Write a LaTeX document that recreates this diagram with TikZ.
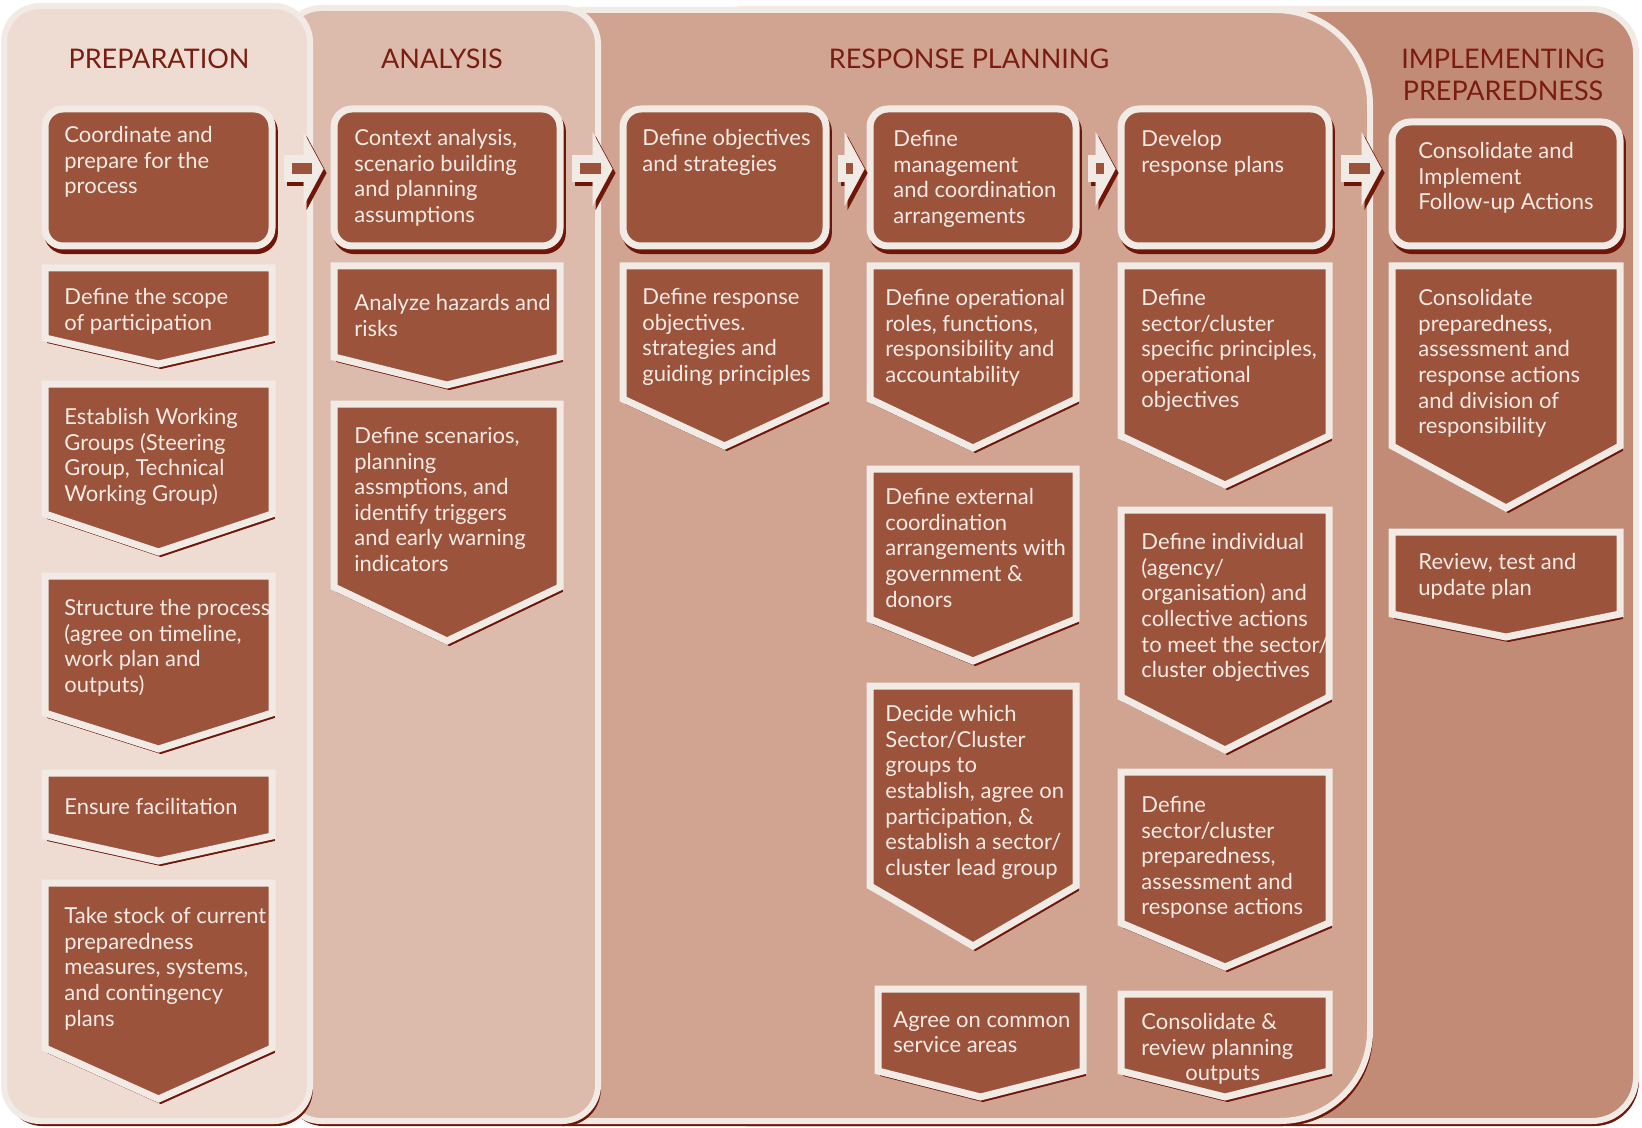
\documentclass[tikz,border=0pt]{standalone}
\usepackage{fontspec}
\setmainfont{Lato}
\usetikzlibrary{arrows.meta,fit}

\definecolor{boxbrown}{RGB}{156,83,59}
\definecolor{boxline}{RGB}{242,234,229}
\definecolor{shadowred}{RGB}{112,22,8}
\definecolor{titlered}{RGB}{122,28,16}
\definecolor{panA}{RGB}{238,220,210}
\definecolor{panB}{RGB}{221,187,172}
\definecolor{panC}{RGB}{209,164,145}
\definecolor{panD}{RGB}{193,139,117}

\tikzset{
    dshadow/.style={preaction={draw=shadowred, fill=shadowred, transform canvas={shift={(1.2pt,-2.3pt)}}}},
    panel/.style={draw=boxline, line width=3pt, dshadow},
    topbox/.style={draw=boxline, fill=boxbrown, line width=3.5pt, rounded corners=9pt, inner sep=0pt, dshadow},
    chev/.style={draw=boxline, fill=boxbrown, line width=3.5pt, dshadow},
    txt/.style={anchor=north west, align=left, inner sep=0pt, text=boxline, font=\fontsize{11}{12.8}\selectfont},
    title/.style={text=titlered, align=center, font=\fontsize{13.5}{16}\selectfont},
    flowshadow/.style={draw=shadowred, line width=13.5pt, -{Triangle[width=37pt, length=10pt, line width=0.1pt]},
        shorten <=4pt, shorten >=#1},
    flow/.style={draw=boxline, line width=13.5pt, -{Triangle[width=37pt, length=10pt, line width=0.1pt]},
        shorten <=4pt, shorten >=#1,
        postaction={draw=boxbrown, line width=5.5pt, -, shorten <=8pt, shorten >=#1+6pt}}
}

\begin{document}
\begin{tikzpicture}[x=0.5pt, y=-0.5pt]

    \useasboundingbox (0,0) rectangle (1642,1128);

    %-------------------------
    % Pannelli delle fasi
    %-------------------------
    \draw[panel, fill=panD, rounded corners=22pt] (700,9) rectangle (1636,1121);
    \draw[panel, fill=panC] (560,1121) -- (560,30)
    arc[start angle=180, end angle=90, radius=10pt] -- (1275,10)
    arc[start angle=90, end angle=0, radius=47.5pt] -- (1370,1031)
    arc[start angle=0, end angle=-90, radius=45pt] -- cycle;
    \draw[panel, fill=panB, rounded corners=18pt] (285,8) rectangle (598,1121);
    \draw[panel, fill=panA, rounded corners=18pt] (4,6) rectangle (310,1121);

    % Titoli
    \node[title] (tprep) at (159,59) {PREPARATION};
    \node[title] (tanal) at (442,59) {ANALYSIS};
    \node[title] (tresp) at (969,59) {RESPONSE PLANNING};
    \node[title] (timpl) at (1503,75) {IMPLEMENTING\\PREPAREDNESS};

    %-------------------------
    % Riquadri iniziali
    %-------------------------
    \node[topbox, fit={(45,109) (272,246)}] (prep) {};
    \node[topbox, fit={(334,109) (560,246)}] (anal) {};
    \node[topbox, fit={(623,109) (826,246)}] (objs) {};
    \node[topbox, fit={(870,109) (1076,246)}] (mgmt) {};
    \node[topbox, fit={(1121,109) (1329,246)}] (plans) {};
    \node[topbox, fit={(1392,122) (1620,246)}] (impl) {};

    \node[txt] (prept) at (64,126) {Coordinate and\\prepare for the\\process};
    \node[txt] (analt) at (354,129) {Context analysis,\\scenario building\\and planning\\assumptions};
    \node[txt] (objst) at (642,129) {Define objectives\\and strategies};
    \node[txt] (mgmtt) at (893,130) {Define\\management\\and coordination\\arrangements};
    \node[txt] (planst) at (1141,130) {Develop\\response plans};
    \node[txt] (implt) at (1418,142) {Consolidate and\\Implement\\Follow-up Actions};

    % Frecce tra le fasi (ombra, poi freccia)
    \draw[flowshadow=3.5pt] ([shift={(1.5pt,2.25pt)}]prep.east) -- ([shift={(1.5pt,2.25pt)}]prep.east -| anal.west);
    \draw[flow=3.5pt] ([yshift=4.25pt]prep.east) -- ([yshift=4.25pt]prep.east -| anal.west);

    \draw[flowshadow=3.5pt] ([shift={(1.5pt,2.25pt)}]anal.east) -- ([shift={(1.5pt,2.25pt)}]anal.east -| objs.west);
    \draw[flow=3.5pt] ([yshift=4.25pt]anal.east) -- ([yshift=4.25pt]anal.east -| objs.west);

    \draw[flowshadow=1pt] ([shift={(1.5pt,2.25pt)}]objs.east) -- ([shift={(1.5pt,2.25pt)}]objs.east -| mgmt.west);
    \draw[flow=1pt] ([yshift=4.25pt]objs.east) -- ([yshift=4.25pt]objs.east -| mgmt.west);

    \draw[flowshadow=1pt] ([shift={(1.5pt,2.25pt)}]mgmt.east) -- ([shift={(1.5pt,2.25pt)}]mgmt.east -| plans.west);
    \draw[flow=1pt] ([yshift=4.25pt]mgmt.east) -- ([yshift=4.25pt]mgmt.east -| plans.west);

    \draw[flowshadow=3.5pt] ([shift={(1.5pt,2.25pt)}]plans.east) -- ([shift={(1.5pt,2.25pt)}]plans.east -| impl.west);
    \draw[flow=3.5pt] ([yshift=4.25pt]plans.east) -- ([yshift=4.25pt]plans.east -| impl.west);

    %-------------------------
    % Preparation
    %-------------------------
    \draw[chev] (45,268) -- (272,268) -- (272,338) -- (158.5,364) -- (45,338) -- cycle;
    \node[txt] (scope) at (64,288) {Define the scope\\of participation};

    \draw[chev] (45,384) -- (272,384) -- (272,514) -- (158.5,552) -- (45,514) -- cycle;
    \node[txt] (groups) at (64,408) {Establish Working\\Groups (Steering\\Group, Technical\\Working Group)};

    \draw[chev] (45,576) -- (272,576) -- (272,713) -- (158.5,749) -- (45,713) -- cycle;
    \node[txt] (struct) at (64,599) {Structure the process\\(agree on timeline,\\work plan and\\outputs)};

    \draw[chev] (45,773) -- (272,773) -- (272,836) -- (158.5,861) -- (45,836) -- cycle;
    \node[txt] (facil) at (64,798) {Ensure facilitation};

    \draw[chev] (45,883) -- (272,883) -- (272,1048) -- (158.5,1099) -- (45,1048) -- cycle;
    \node[txt] (stock) at (64,907) {Take stock of current\\preparedness\\measures, systems,\\and contingency\\plans};

    %-------------------------
    % Analysis
    %-------------------------
    \draw[chev] (334,266) -- (560,266) -- (560,357) -- (447,385) -- (334,357) -- cycle;
    \node[txt] (hazards) at (354,294) {Analyze hazards and\\risks};

    \draw[chev] (334,404) -- (560,404) -- (560,587) -- (447,641) -- (334,587) -- cycle;
    \node[txt] (scen) at (354,427) {Define scenarios,\\planning\\assmptions, and\\identify triggers\\and early warning\\indicators};

    %-------------------------
    % Response planning
    %-------------------------
    \draw[chev] (623,266) -- (826,266) -- (826,399) -- (724.5,446) -- (623,399) -- cycle;
    \node[txt] (respobj) at (642,288) {Define response\\objectives.\\strategies and\\guiding principles};

    \draw[chev] (870,266) -- (1076,266) -- (1076,399) -- (973,448) -- (870,399) -- cycle;
    \node[txt] (roles) at (885,289) {Define operational\\roles, functions,\\responsibility and\\accountability};

    \draw[chev] (870,469) -- (1076,469) -- (1076,619) -- (973,661) -- (870,619) -- cycle;
    \node[txt] (extern) at (885,488) {Define external\\coordination\\arrangements with\\government \&\\donors};

    \draw[chev] (870,686) -- (1076,686) -- (1076,886) -- (973,946) -- (870,886) -- cycle;
    \node[txt] (sectors) at (885,705) {Decide which\\Sector/Cluster\\groups to\\establish, agree on\\participation, \&\\establish a sector/\\cluster lead group};

    \draw[chev] (878,989) -- (1083,989) -- (1083,1071) -- (980.5,1097) -- (878,1071) -- cycle;
    \node[txt] (services) at (893,1011) {Agree on common\\service areas};

    \draw[chev] (1121,266) -- (1329,266) -- (1329,436) -- (1225,485) -- (1121,436) -- cycle;
    \node[txt] (princ) at (1141,289) {Define\\sector/cluster\\specific principles,\\operational\\objectives};

    \draw[chev] (1121,510) -- (1329,510) -- (1329,697) -- (1225,750) -- (1121,697) -- cycle;
    \node[txt] (actions) at (1141,533) {Define individual\\(agency/\\organisation) and\\collective actions\\to meet the sector/\\cluster objectives};

    \draw[chev] (1121,772) -- (1329,772) -- (1329,923) -- (1225,967) -- (1121,923) -- cycle;
    \node[txt] (secprep) at (1141,796) {Define\\sector/cluster\\preparedness,\\assessment and\\response actions};

    \draw[chev] (1121,994) -- (1329,994) -- (1329,1071) -- (1225,1097) -- (1121,1071) -- cycle;
    \node[txt] (review) at (1141,1013) {Consolidate \&\\review planning\\\hspace*{2em}outputs};

    %-------------------------
    % Implementing preparedness
    %-------------------------
    \draw[chev] (1392,266) -- (1620,266) -- (1620,446) -- (1506,508) -- (1392,446) -- cycle;
    \node[txt] (consol) at (1418,289) {Consolidate\\preparedness,\\assessment and\\response actions\\and division of\\responsibility};

    \draw[chev] (1392,532) -- (1620,532) -- (1620,614) -- (1506,637) -- (1392,614) -- cycle;
    \node[txt] (test) at (1418,553) {Review, test and\\update plan};

\end{tikzpicture}
\end{document}
